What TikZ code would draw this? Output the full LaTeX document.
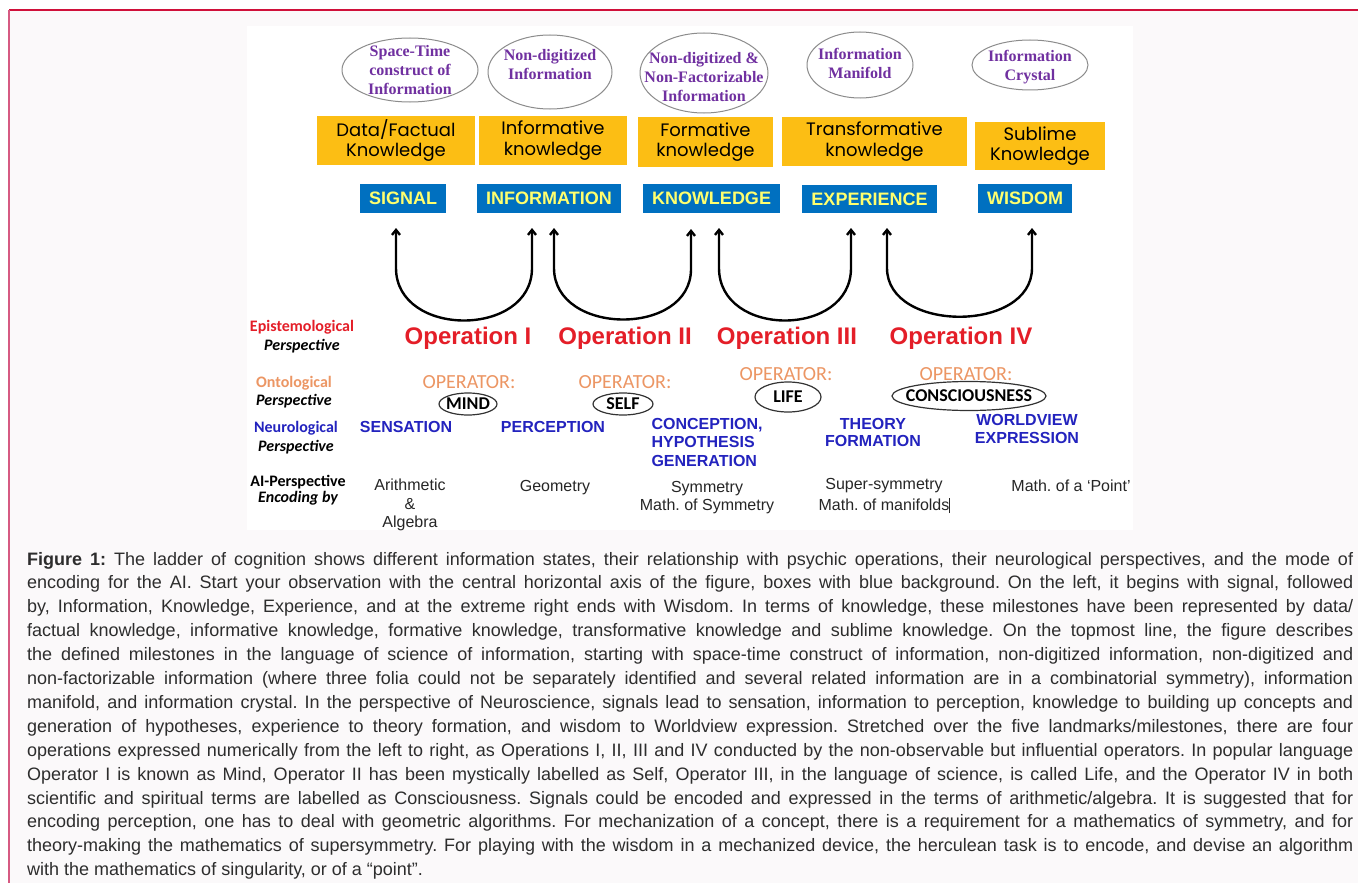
\documentclass[tikz,border=0pt]{standalone}
\usepackage{fontspec}
\setmainfont{Liberation Sans}
\newfontfamily\serifb{Liberation Serif}
\newfontfamily\calib{Carlito}
\newfontfamily\handf{Poppins}
\usetikzlibrary{arrows.meta}
\hyphenpenalty=10000
\exhyphenpenalty=10000
\frenchspacing

\definecolor{framebg}{RGB}{251,249,250}
\definecolor{framered}{RGB}{208,16,58}
\definecolor{framepink}{RGB}{214,90,130}
\definecolor{ellpurple}{RGB}{112,48,160}
\definecolor{ellgrey}{RGB}{140,140,140}
\definecolor{kgold}{RGB}{252,190,20}
\definecolor{sblue}{RGB}{0,112,192}
\definecolor{syellow}{RGB}{255,255,110}
\definecolor{opred}{RGB}{228,30,40}
\definecolor{oporange}{RGB}{236,150,100}
\definecolor{neublue}{RGB}{35,35,190}
\definecolor{capgrey}{RGB}{45,45,45}

\begin{document}
\begin{tikzpicture}
  [x=1pt,y=-1pt,
   infotext/.style={align=center, text=ellpurple, font=\serifb\bfseries\fontsize{16}{19}\selectfont},
   kbox/.style={fill=kgold, inner sep=0pt, align=center, font=\handf\fontsize{18}{20.5}\selectfont},
   sbox/.style={fill=sblue, inner sep=0pt, text=syellow, font=\bfseries\fontsize{18}{20}\selectfont},
   opname/.style={text=opred, font=\bfseries\fontsize{24}{26}\selectfont},
   optag/.style={text=oporange, font=\calib\fontsize{20}{22}\selectfont},
   opword/.style={font=\calib\bfseries\fontsize{18}{20}\selectfont},
   neuro/.style={text=neublue, align=center, font=\bfseries\fontsize{16}{18.5}\selectfont},
   aitext/.style={text=black!85, align=center, font=\fontsize{16}{19}\selectfont},
   perlab/.style={align=center, font=\calib\bfseries\fontsize{16}{19}\selectfont},
   uarrow/.style={<->, >={Straight Barb[length=5pt,width=8pt]}, line width=2.4pt},
   captext/.style={anchor=base west, text width=1326pt, align=justify, inner sep=0pt,
     text=capgrey, font=\fontsize{18}{23.9}\selectfont}]

  \useasboundingbox (0,0) rectangle (1358,883);
  \fill[white] (0,0) rectangle (1358,883);
  \fill[framebg] (9,10) rectangle (1358,883);
  \draw[framered, line width=1.5pt] (9,10) -- (1358,10);
  \draw[framepink, line width=1.5pt] (9,10) -- (9,883);
  \fill[white] (247,26) rectangle (1133,530);

  % information states
  \node[infotext] (e1) at (410,70) {Space-Time\\construct of\\Information};
  \node[infotext] (e2) at (550,65) {Non-digitized\\Information};
  \node[infotext] (e3) at (704,77) {Non-digitized \&\\Non-Factorizable\\Information};
  \node[infotext] (e4) at (860,63.5) {Information\\Manifold};
  \node[infotext] (e5) at (1030,67.5) {Information\\Crystal};

  \foreach \n/\dy/\rx/\ry in {e1/0/68/32, e2/7/62/37, e3/-4/64/40, e4/1.5/53/33, e5/-2.5/58/25}
    \draw[ellgrey, line width=1pt] (\n) ++(0,\dy) ellipse [x radius=\rx, y radius=\ry];

  % knowledge boxes
  \node[kbox, minimum width=158pt, minimum height=49pt] (k1) at (396,140.5) {Data/Factual\\Knowledge};
  \node[kbox, minimum width=148pt, minimum height=49pt] (k2) at (553,140.5) {Informative\\knowledge};
  \node[kbox, minimum width=135pt, minimum height=50pt] (k3) at (705.5,142) {Formative\\knowledge};
  \node[kbox, minimum width=185pt, minimum height=49pt] (k4) at (874.5,141.5) {Transformative\\knowledge};
  \node[kbox, minimum width=130pt, minimum height=48pt] (k5) at (1040,146) {Sublime\\Knowledge};

  % milestones
  \node[sbox, minimum width=86pt, minimum height=29pt] (s1) at (403,198.5) {SIGNAL};
  \node[sbox, minimum width=144pt, minimum height=29pt] (s2) at (549,198.5) {INFORMATION};
  \node[sbox, minimum width=137pt, minimum height=29pt] (s3) at (711.5,198.5) {KNOWLEDGE};
  \node[sbox, minimum width=135pt, minimum height=28pt] (s4) at (869.5,199) {EXPERIENCE};
  \node[sbox, minimum width=94pt, minimum height=29pt] (s5) at (1025,198.5) {WISDOM};

  \coordinate (u1a) at (396,228);
  \coordinate (u1b) at (532,228);
  \coordinate (u2a) at (554,228);
  \coordinate (u2b) at (691,229);
  \coordinate (u3a) at (719,228);
  \coordinate (u3b) at (851,228);
  \coordinate (u4a) at (887,228);
  \coordinate (u4b) at (1032,228);

  \foreach \from/\to/\dip in {u1a/u1b/70, u2a/u2b/68, u3a/u3b/70, u4a/u4b/65}
    \draw[uarrow] (\from) -- ++(0,40) .. controls +(0,\dip) and +(0,\dip) .. ([yshift=-40pt]\to) -- (\to);

  % operations
  \node[opname] (o1) at (468,338) {Operation I};
  \node[opname] (o2) at (625,338) {Operation II};
  \node[opname] (o3) at (787,338) {Operation III};
  \node[opname] (o4) at (961,338) {Operation IV};

  % perspectives
  \node[perlab] (p1) at (302,337) {\textcolor{opred}{Epistemological}\\\itshape Perspective};
  \node[perlab, font=\calib\bfseries\fontsize{16}{18}\selectfont] (p2) at (294,392) {\textcolor{oporange}{Ontological}\\\itshape Perspective};
  \node[perlab] (p3) at (296,437.5) {\textcolor{neublue}{Neurological}\\\itshape Perspective};
  \node[perlab, font=\calib\bfseries\fontsize{16}{16}\selectfont] (p4) at (298,490) {AI-Perspective\\\itshape Encoding by};

  % operators
  \node[optag] (t1) at (469,382) {OPERATOR:};
  \node[optag] (t2) at (625,382) {OPERATOR:};
  \node[optag] (t3) at (786,374) {OPERATOR:};
  \node[optag] (t4) at (966,374) {OPERATOR:};
  \node[opword] (w1) at (468,404) {MIND};
  \node[opword] (w2) at (623,404) {SELF};
  \node[opword] (w3) at (788,397) {LIFE};
  \node[opword] (w4) at (969,396) {CONSCIOUSNESS};

  \foreach \n/\rx/\ry in {w1/29/11, w2/30/11, w3/33/15, w4/77/14.5}
    \draw[black!80, line width=1.2pt] (\n) ellipse [x radius=\rx, y radius=\ry];

  % neurological
  \node[neuro] (n1) at (406,427) {SENSATION};
  \node[neuro] (n2) at (553,427) {PERCEPTION};
  \node[neuro, align=left, anchor=west] (n3) at (648,442) {CONCEPTION,\\HYPOTHESIS\\GENERATION};
  \node[neuro, font=\bfseries\fontsize{16}{17.5}\selectfont] (n4) at (873,432.5) {THEORY\\FORMATION};
  \node[neuro, font=\bfseries\fontsize{16}{18}\selectfont] (n5) at (1027,429) {WORLDVIEW\\EXPRESSION};

  % encoding
  \node[aitext, font=\fontsize{16}{18.5}\selectfont] (a1) at (410,505) {Arithmetic\\\&\\Algebra};
  \node[aitext] (a2) at (555,488) {Geometry};
  \node[aitext, font=\fontsize{16}{18}\selectfont] (a3) at (707,498) {Symmetry\\Math. of Symmetry};
  \node[aitext, font=\fontsize{16}{21}\selectfont] (a4) at (884,495.5) {Super-symmetry\\Math. of manifolds\rlap{\rule[-3pt]{0.6pt}{15pt}}};
  \node[aitext] (a5) at (1071,486) {Math. of a ‘Point’};

  % caption
  \node[captext] (cap) at (27,565) {\textbf{Figure 1:} The ladder of cognition shows different information states, their relationship with psychic operations, their neurological perspectives, and the mode of\linebreak
  encoding for the AI. Start your observation with the central horizontal axis of the figure, boxes with blue background. On the left, it begins with signal, followed\linebreak
  by, Information, Knowledge, Experience, and at the extreme right ends with Wisdom. In terms of knowledge, these milestones have been represented by data/\linebreak
  factual knowledge, informative knowledge, formative knowledge, transformative knowledge and sublime knowledge. On the topmost line, the figure describes\linebreak
  the defined milestones in the language of science of information, starting with space-time construct of information, non-digitized information, non-digitized and\linebreak
  non-factorizable information (where three folia could not be separately identified and several related information are in a combinatorial symmetry), information\linebreak
  manifold, and information crystal. In the perspective of Neuroscience, signals lead to sensation, information to perception, knowledge to building up concepts and\linebreak
  generation of hypotheses, experience to theory formation, and wisdom to Worldview expression. Stretched over the five landmarks/milestones, there are four\linebreak
  operations expressed numerically from the left to right, as Operations I, II, III and IV conducted by the non-observable but influential operators. In popular language\linebreak
  Operator I is known as Mind, Operator II has been mystically labelled as Self, Operator III, in the language of science, is called Life, and the Operator IV in both\linebreak
  scientific and spiritual terms are labelled as Consciousness. Signals could be encoded and expressed in the terms of arithmetic/algebra. It is suggested that for\linebreak
  encoding perception, one has to deal with geometric algorithms. For mechanization of a concept, there is a requirement for a mathematics of symmetry, and for\linebreak
  theory-making the mathematics of supersymmetry. For playing with the wisdom in a mechanized device, the herculean task is to encode, and devise an algorithm\linebreak
  with the mathematics of singularity, or of a “point”.};

\end{tikzpicture}
\end{document}
